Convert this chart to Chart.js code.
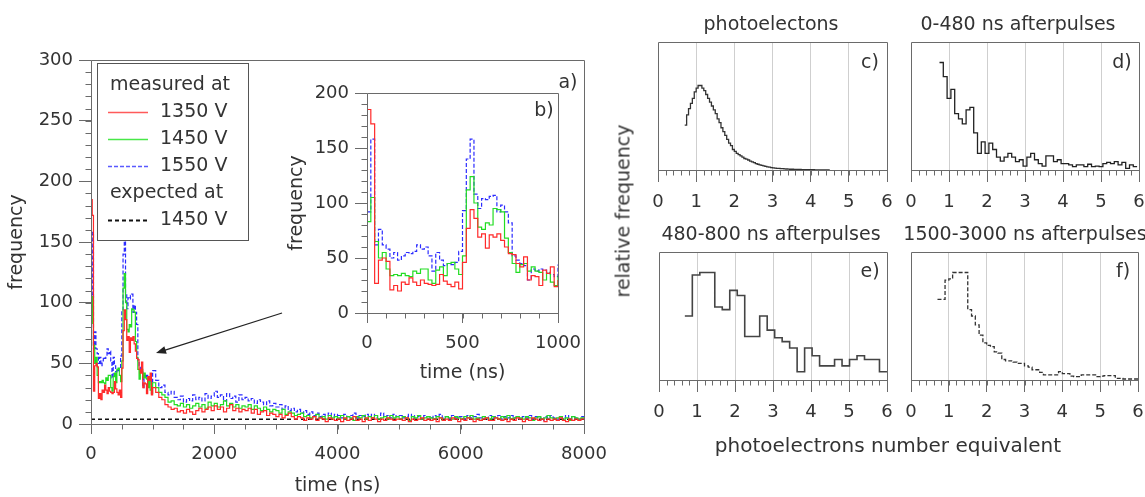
<!DOCTYPE html>
<html><head><meta charset="utf-8">
<script src="https://cdn.jsdelivr.net/npm/chart.js@4.4.1/dist/chart.umd.min.js"></script>
<style>
html,body{margin:0;padding:0;background:#fff;}
body{width:1145px;height:497px;overflow:hidden;position:relative;font-family:'DejaVu Sans',sans-serif;color:#333;}
canvas{position:absolute;}
.t{position:absolute;white-space:nowrap;font-size:19px;line-height:19px;color:#333;transform:translate(-50%,-50%);}
</style></head><body>
<canvas id="cMain" width="625" height="497" style="left:0;top:0"></canvas>
<canvas id="cInset" width="300" height="320" style="left:280px;top:70px"></canvas>
<canvas id="cC" width="260" height="200" style="left:640px;top:30px"></canvas>
<canvas id="cD" width="245" height="200" style="left:900px;top:30px"></canvas>
<canvas id="cE" width="260" height="200" style="left:640px;top:240px"></canvas>
<canvas id="cF" width="245" height="200" style="left:900px;top:240px"></canvas>

<div class="t" style="left:568px;top:81px">a)</div>
<div class="t" style="left:544px;top:109px">b)</div>
<div class="t" style="left:870px;top:61px">c)</div>
<div class="t" style="left:1122px;top:61px">d)</div>
<div class="t" style="left:870px;top:270px">e)</div>
<div class="t" style="left:1123px;top:270px">f)</div>
<div class="t" style="left:771px;top:23px">photoelectons</div>
<div class="t" style="left:1018px;top:23px">0-480 ns afterpulses</div>
<div class="t" style="left:771px;top:233px">480-800 ns afterpulses</div>
<div class="t" style="left:1025px;top:233px">1500-3000 ns afterpulses</div>
<div class="t" style="left:623px;top:211px;transform:translate(-50%,-50%) rotate(-90deg)">relative frequency</div>
<div class="t" style="left:888px;top:445px;font-size:20px">photoelectrons number equivalent</div>

<script>
// ---------------- DATA ----------------
// time histograms, 20 ns bins from 0 to 1000 ns
const earlyBinStart = 0, earlyBinWidth = 20;
const red1350Early = [185,172,27,48,50,47,21,25,20,28, 26,32,28,25,30,27,26,25,26,35, 29,26,24,28,22,46,77,94,86,69, 72,59,71,69,72,66,60,54,53,45, 42,51,30,34,33,25,39,36,42,24];
const green1450Early = [83,105,65,50,55,40,34,35,34,36, 34,33,38,36,40,40,30,27,39,42, 34,45,46,40,35,52,112,124,100,78, 76,82,80,95,94,92,68,55,45,37, 44,45,38,42,38,37,30,36,28,25];
const blue1550Early = [92,158,62,76,62,58,50,55,48,52, 55,54,56,62,58,60,52,38,55,48, 43,45,44,46,56,93,140,158,108,95, 104,103,106,107,92,98,92,82,52,48, 45,43,30,40,38,40,39,37,35,33];
// 50 ns bins from 1000 to 8000 ns
const tailBinStart = 1000, tailBinWidth = 50;
const red1350Tail = [30,26,22,20,16,14,12,13,10,11, 9,12,10,8,11,13,10,12,14,11, 15,12,14,10,13,16,11,13,10,12, 11,13,9,12,8,10,11,7,9,8,
  6,8,5,7,9,6,4,6,5,3, 5,4,6,3,5,4,2,5,4,3, 4,2,5,3,4,6,3,4,2,5, 3,5,4,2,4,3,5,4,3,4,
  4,3,5,2,4,3,4,5,3,4, 3,4,2,5,3,4,3,5,4,2, 4,3,5,4,2,4,3,4,5,3, 3,5,4,3,4,2,4,3,5,4,
  2,4,3,5,4,3,4,2,4,3, 4,3,5,3,2,4,3,4,3,4];
const green1450Tail = [34,30,26,24,22,18,19,16,15,17, 14,16,13,15,17,14,16,13,18,15, 17,14,16,19,15,17,14,16,13,15, 14,16,12,15,13,11,14,12,10,12,
  11,9,12,8,10,9,7,8,9,6, 7,5,6,8,5,6,4,7,5,6, 5,7,4,6,5,3,6,5,7,4, 6,5,7,4,5,6,4,7,5,6,
  4,6,5,3,6,5,7,4,5,6, 5,4,6,5,3,6,5,4,6,5, 4,6,5,7,4,5,3,6,5,4, 6,5,4,6,5,7,4,5,6,5,
  4,6,5,3,5,6,4,5,7,5, 4,5,6,4,5,3,6,5,4,5];
const blue1550Tail = [44,36,30,32,26,24,27,22,20,23, 18,21,19,24,20,22,19,25,21,23, 27,22,24,19,25,21,23,18,24,20, 22,19,21,17,20,18,16,19,15,17,
  14,16,12,15,11,13,10,12,9,11, 8,10,7,9,6,8,7,9,6,8, 7,5,8,6,7,9,5,7,6,8, 6,8,5,7,9,6,7,5,8,6,
  7,5,6,8,5,7,6,4,7,6, 5,7,6,8,5,6,4,7,5,6, 6,4,7,5,6,8,5,6,4,7, 5,6,7,4,6,5,7,5,6,4,
  6,5,7,4,6,5,3,6,5,7, 5,4,6,5,7,4,6,5,4,6];
const expected1450 = 4;
const timeRange = [0, 8000];

const yTicksMain = {min:0, max:300, step:50, minor:10};
const xTicksMain = {min:0, max:8000, step:2000, minor:500};
const yTicksInset = {min:0, max:200, step:50, minor:10};
const xTicksInset = {min:0, max:1000, step:500, minor:100};

// pulse-height histograms (relative frequency)
const pheC = {start:0.70, width:0.05, values:[0.35,0.43,0.48,0.52,0.56,0.61,0.64,0.66,0.66,0.64,
 0.62,0.59,0.56,0.53,0.50,0.47,0.44,0.40,0.37,0.33, 0.30,0.27,0.24,0.21,0.19,0.16,0.145,0.13,0.12,0.11,
 0.10,0.09,0.085,0.078,0.07,0.063,0.057,0.05,0.045,0.04, 0.036,0.032,0.028,0.025,0.022,0.019,0.017,0.015,0.013,0.012,
 0.011,0.010,0.009,0.008,0.007,0.006,0.006,0.005,0.005,0.004, 0.004,0.003,0.003,0.003,0.002,0.002,0.002,0.002,0.001,0.001,
 0.001,0.001,0.001,0.001,0.001,0.001]};
const pheD = {start:0.75, width:0.1, values:[0.84,0.73,0.56,0.63,0.44,0.40,0.36,0.47,0.49,0.29,
 0.13,0.22,0.13,0.21,0.16,0.10,0.07,0.10,0.13,0.10, 0.065,0.08,0.03,0.10,0.13,0.08,0.05,0.03,0.11,0.11,
 0.065,0.08,0.05,0.05,0.04,0.026,0.04,0.04,0.026,0.045, 0.026,0.03,0.026,0.05,0.06,0.05,0.065,0.04,0.06,0.013,
 0.04,0.026]};
const pheE = {start:0.68, width:0.197, values:[0.50,0.82,0.84,0.84,0.57,0.55,0.70,0.66,0.34,0.34,
 0.50,0.39,0.33,0.30,0.25,0.065,0.25,0.19,0.11,0.11, 0.16,0.11,0.16,0.19,0.16,0.16,0.065]};
const pheF = {start:0.70, width:0.1, values:[0.63,0.63,0.78,0.79,0.84,0.84,0.84,0.84,0.55,0.50,
 0.43,0.35,0.29,0.27,0.26,0.22,0.21,0.16,0.15,0.15, 0.14,0.13,0.13,0.11,0.10,0.08,0.08,0.06,0.04,0.04,
 0.04,0.04,0.065,0.05,0.05,0.03,0.026,0.026,0.04,0.04, 0.04,0.04,0.026,0.03,0.034,0.034,0.034,0.013,0.013,0.008,
 0.008,0.008,0.008]};
const pheTicks = {min:0, max:6, step:1, minor:0.2};

// ---------------- HELPERS ----------------
function histPoints(start, width, values, closeEnd) {
  const pts = values.map((v, i) => ({x: start + i * width, y: v}));
  if (closeEnd) pts.push({x: start + values.length * width, y: values[values.length - 1]});
  return pts;
}
function timeSeries(early, tail) {
  return histPoints(earlyBinStart, earlyBinWidth, early, false).concat(histPoints(tailBinStart, tailBinWidth, tail, true));
}

Chart.defaults.font.family = "'DejaVu Sans', sans-serif";
Chart.defaults.color = '#333';
Chart.defaults.animation = false;

const AXIS = '#6a6a6a';
const plainNum = v => String(v);

const frameTicks = {
  id: 'frameTicks',
  afterDatasetsDraw(chart, args, o) {
    const {ctx, chartArea: a, scales} = chart;
    ctx.save();
    ctx.strokeStyle = o.color || AXIS;
    ctx.lineWidth = 1;
    const L = Math.round(a.left) + 0.5, R = Math.round(a.right) + 0.5, T = Math.round(a.top) + 0.5, B = Math.round(a.bottom) + 0.5;
    ctx.beginPath(); ctx.rect(L, T, R - L, B - T); ctx.stroke();
    ctx.beginPath();
    if (o.xMinor) {
      const s = scales.x, n = Math.round((s.max - s.min) / o.xMinor);
      for (let i = 0; i <= n; i++) {
        const px = Math.round(s.getPixelForValue(s.min + i * o.xMinor)) + 0.5;
        ctx.moveTo(px, B); ctx.lineTo(px, B + o.xMinorLen);
      }
    }
    if (o.yMinor) {
      const s = scales.y, n = Math.round((s.max - s.min) / o.yMinor);
      for (let i = 0; i <= n; i++) {
        const py = Math.round(s.getPixelForValue(s.min + i * o.yMinor)) + 0.5;
        ctx.moveTo(L - o.yMinorLen, py); ctx.lineTo(L, py);
      }
    }
    ctx.stroke();
    ctx.restore();
  }
};

const boxLegend = {
  id: 'boxLegend',
  afterDatasetsDraw(chart, args, o) {
    if (!o.items) return;
    const ctx = chart.ctx;
    ctx.save();
    ctx.fillStyle = '#fff';
    ctx.fillRect(o.box[0], o.box[1], o.box[2], o.box[3]);
    ctx.strokeStyle = '#555'; ctx.lineWidth = 1;
    ctx.strokeRect(o.box[0] + 0.5, o.box[1] + 0.5, o.box[2], o.box[3]);
    ctx.font = o.font; ctx.textBaseline = 'middle'; ctx.fillStyle = '#333';
    o.items.forEach((it, i) => {
      const y = o.firstRow + i * o.rowStep;
      if (it.ds === undefined) {
        ctx.fillStyle = '#333'; ctx.textAlign = 'left';
        ctx.fillText(it.text, o.headerX, y);
      } else {
        const ds = chart.data.datasets[it.ds];
        ctx.beginPath();
        ctx.strokeStyle = ds.legendColor || ds.borderColor;
        ctx.lineWidth = ds.borderWidth + 0.3;
        ctx.setLineDash(ds.borderDash || []);
        ctx.moveTo(o.sample[0], Math.round(y) + 0.5); ctx.lineTo(o.sample[1], Math.round(y) + 0.5);
        ctx.stroke();
        ctx.setLineDash([]);
        ctx.fillStyle = '#333'; ctx.textAlign = 'left';
        ctx.fillText(it.text, o.textX, y);
      }
    });
    ctx.restore();
  }
};

const arrowPlugin = {
  id: 'arrowNote',
  afterDatasetsDraw(chart, args, o) {
    if (!o.from) return;
    const {ctx, scales: {x, y}} = chart;
    const x1 = x.getPixelForValue(o.from[0]), y1 = y.getPixelForValue(o.from[1]);
    const x2 = x.getPixelForValue(o.to[0]), y2 = y.getPixelForValue(o.to[1]);
    const ang = Math.atan2(y2 - y1, x2 - x1), hl = 10, hw = 4;
    ctx.save();
    ctx.strokeStyle = '#222'; ctx.fillStyle = '#222'; ctx.lineWidth = 1.2;
    ctx.beginPath(); ctx.moveTo(x1, y1); ctx.lineTo(x2 - Math.cos(ang) * hl * 0.8, y2 - Math.sin(ang) * hl * 0.8); ctx.stroke();
    ctx.beginPath();
    ctx.moveTo(x2, y2);
    ctx.lineTo(x2 - Math.cos(ang) * hl - Math.sin(ang) * hw, y2 - Math.sin(ang) * hl + Math.cos(ang) * hw);
    ctx.lineTo(x2 - Math.cos(ang) * hl + Math.sin(ang) * hw, y2 - Math.sin(ang) * hl - Math.cos(ang) * hw);
    ctx.closePath(); ctx.fill();
    ctx.restore();
  }
};

function fixW(w) { return s => { s.width = w; s.paddingTop = 0; s.paddingBottom = 0; }; }
function fixH(h) { return s => { s.height = h; s.paddingLeft = 0; s.paddingRight = 0; }; }

function timeDatasets() {
  return [
    {label: '1350 V', data: timeSeries(red1350Early, red1350Tail), borderColor: '#ff2a2a', legendColor: '#ff5a5a', borderWidth: 1.2, stepped: 'before', pointRadius: 0, fill: false},
    {label: '1450 V', data: timeSeries(green1450Early, green1450Tail), borderColor: '#22dd22', legendColor: '#48e848', borderWidth: 1.2, stepped: 'before', pointRadius: 0, fill: false},
    {label: '1550 V', data: timeSeries(blue1550Early, blue1550Tail), borderColor: '#2b2bff', legendColor: '#5a5aff', borderWidth: 1.2, borderDash: [4, 2], stepped: 'before', pointRadius: 0, fill: false},
    {label: 'expected 1450 V', data: [{x: timeRange[0], y: expected1450}, {x: timeRange[1], y: expected1450}], borderColor: '#111', borderWidth: 1.5, borderDash: [4, 3], pointRadius: 0, fill: false}
  ];
}

function timeOptions(cfg) {
  return {
    responsive: false, animation: false,
    layout: {padding: cfg.pad},
    plugins: {legend: {display: false}, tooltip: {enabled: false},
      frameTicks: {xMinor: cfg.xt.minor, xMinorLen: 5, yMinor: cfg.yt.minor, yMinorLen: 6},
      boxLegend: cfg.legend || {}, arrowNote: cfg.arrow || {}},
    scales: {
      x: {type: 'linear', min: cfg.xt.min, max: cfg.xt.max, afterFit: fixH(cfg.xh),
        ticks: {stepSize: cfg.xt.step, font: {size: 18}, padding: 10, maxRotation: 0, color: '#333', callback: plainNum},
        grid: {display: true, drawOnChartArea: false, drawTicks: true, tickLength: 10, tickColor: AXIS, color: AXIS},
        border: {display: false},
        title: {display: true, text: 'time (ns)', font: {size: 19}, color: '#333', padding: {top: 0, bottom: cfg.xTitlePad}}},
      y: {type: 'linear', min: cfg.yt.min, max: cfg.yt.max, afterFit: fixW(cfg.yw),
        ticks: {stepSize: cfg.yt.step, font: {size: 18}, padding: 6, color: '#333', callback: plainNum},
        grid: {display: true, drawOnChartArea: false, drawTicks: true, tickLength: 12, tickColor: AXIS, color: AXIS},
        border: {display: false},
        title: {display: true, text: 'frequency', font: {size: 19}, color: '#333', padding: {top: cfg.yTitlePad, bottom: 0}}}
    }
  };
}

new Chart(document.getElementById('cMain'), {
  type: 'line',
  data: {datasets: timeDatasets()},
  options: timeOptions({pad: {left: 0, right: 41, top: 60, bottom: 0}, xt: xTicksMain, yt: yTicksMain, xh: 73, yw: 91, xTitlePad: 0, yTitlePad: 6,
    legend: {box: [97, 63, 151, 177], font: "19px 'DejaVu Sans'", firstRow: 85, rowStep: 27, headerX: 110, textX: 160, sample: [108, 148],
      items: [{text: 'measured at'}, {ds: 0, text: '1350 V'}, {ds: 1, text: '1450 V'}, {ds: 2, text: '1550 V'}, {text: 'expected at'}, {ds: 3, text: '1450 V'}]},
    arrow: {from: [3100, 91.5], to: [1055, 58.5]}}),
  plugins: [frameTicks, boxLegend, arrowPlugin]
});

new Chart(document.getElementById('cInset'), {
  type: 'line',
  data: {datasets: timeDatasets().slice(0, 3)},
  options: timeOptions({pad: {left: 0, right: 22, top: 23, bottom: 0}, xt: xTicksInset, yt: yTicksInset, xh: 77, yw: 87, xTitlePad: 5.6, yTitlePad: 5.6}),
  plugins: [frameTicks]
});

function pheChart(id, h, pad, style) {
  new Chart(document.getElementById(id), {
    type: 'line',
    data: {datasets: [{data: histPoints(h.start, h.width, h.values, true), borderColor: style.color, borderWidth: style.width, borderDash: style.dash || [], stepped: 'before', pointRadius: 0, fill: false}]},
    options: {
      responsive: false, animation: false,
      layout: {padding: pad},
      plugins: {legend: {display: false}, tooltip: {enabled: false}, frameTicks: {xMinor: pheTicks.minor, xMinorLen: 5}},
      scales: {
        x: {type: 'linear', min: pheTicks.min, max: pheTicks.max, afterFit: fixH(60),
          ticks: {stepSize: pheTicks.step, font: {size: 18}, padding: 10, maxRotation: 0, color: '#333', callback: plainNum},
          grid: {display: true, drawOnChartArea: true, drawTicks: true, tickLength: 12, tickColor: AXIS,
            color: c => (c.tick && c.tick.value > pheTicks.min && c.tick.value < pheTicks.max) ? '#cfcfcf' : 'rgba(0,0,0,0)'},
          border: {display: false}},
        y: {type: 'linear', min: 0, max: 1, display: false}
      }
    },
    plugins: [frameTicks]
  });
}
pheChart('cC', pheC, {left: 18, right: 13, top: 12, bottom: 0}, {color: '#333', width: 1.3});
pheChart('cD', pheD, {left: 11, right: 6, top: 12, bottom: 0}, {color: '#222', width: 1.3});
pheChart('cE', pheE, {left: 19, right: 13, top: 12, bottom: 0}, {color: '#444', width: 1.6});
pheChart('cF', pheF, {left: 11, right: 7, top: 12, bottom: 0}, {color: '#333', width: 1.3, dash: [4, 2]});
</script>
</body></html>
